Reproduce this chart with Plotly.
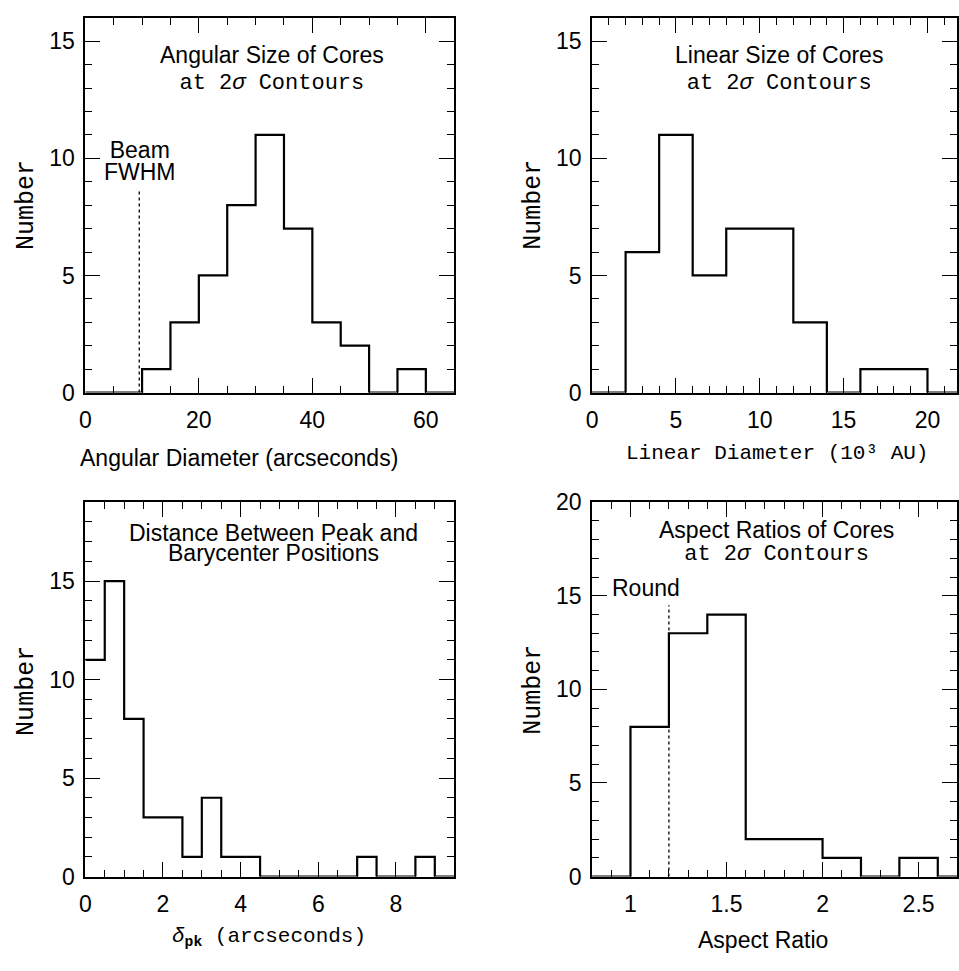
import plotly.graph_objects as go

# ---------------- data ----------------
ang_edges = [0, 5, 10, 15, 20, 25, 30, 35, 40, 45, 50, 55, 60, 65]
ang_counts = [0, 0, 1, 3, 5, 8, 11, 7, 3, 2, 0, 1, 0]
beam_fwhm = 9.5
beam_line_top = 8.6

lin_edges = [0, 2, 4, 6, 8, 10, 12, 14, 16, 18, 20, 22]
lin_counts = [0, 6, 11, 5, 7, 7, 3, 0, 1, 1, 0]

dpk_edges = [0, 0.5, 1, 1.5, 2, 2.5, 3, 3.5, 4, 4.5, 5, 5.5, 6, 6.5, 7, 7.5, 8, 8.5, 9, 9.5]
dpk_counts = [11, 15, 8, 3, 3, 1, 4, 1, 1, 0, 0, 0, 0, 0, 1, 0, 0, 1, 0]

asp_edges = [0.8, 1.0, 1.2, 1.4, 1.6, 1.8, 2.0, 2.2, 2.4, 2.6, 2.8]
asp_counts = [0, 8, 13, 14, 2, 2, 1, 0, 1, 0]
round_ratio = 1.2
round_line_top = 14.5

W, H = 959, 971
SANS = "Liberation Sans, Arial, Helvetica, sans-serif"
MONO = "Liberation Mono, Courier New, monospace"
MONO1 = "Liberation Mono"


def px(x):
    return x / W


def py(y):
    return 1 - y / H


fig = go.Figure()


def step(edges, counts, ax):
    fig.add_trace(go.Scatter(
        x=edges, y=counts + [counts[-1]], mode="lines", line_shape="hv",
        line=dict(color="black", width=2.2), xaxis="x" + ax, yaxis="y" + ax,
        showlegend=False, hoverinfo="skip"))


step(ang_edges, ang_counts, "")
step(lin_edges, lin_counts, "2")
step(dpk_edges, dpk_counts, "3")
step(asp_edges, asp_counts, "4")

fig.add_trace(go.Scatter(x=[beam_fwhm, beam_fwhm], y=[0, beam_line_top], mode="lines",
                         line=dict(color="black", width=1.3, dash="dot"),
                         xaxis="x", yaxis="y", showlegend=False, hoverinfo="skip"))
fig.add_trace(go.Scatter(x=[round_ratio, round_ratio], y=[0, round_line_top], mode="lines",
                         line=dict(color="black", width=1.3, dash="dot"),
                         xaxis="x4", yaxis="y4", showlegend=False, hoverinfo="skip"))

L1, R1 = 80, 452
L2, R2 = 591, 959
T1, B1 = 5, 390
T2, B2 = 502.7, 887.3


def xax(dom, rng, dtick, minor, anchor):
    return dict(domain=[px(dom[0]), px(dom[1])], range=rng, anchor=anchor,
                showgrid=False, zeroline=False, showline=True, linecolor="black",
                linewidth=2, mirror="ticks", ticks="inside", ticklen=15, tickwidth=1.2,
                tickcolor="black", dtick=dtick, tick0=0,
                minor=dict(dtick=minor, ticks="inside", ticklen=7, tickwidth=1.2,
                           tickcolor="black", showgrid=False),
                tickfont=dict(family=SANS, size=23, color="black"),
                ticklabelstandoff=6)


def yax(dom, rng, anchor):
    return dict(domain=[py(dom[1]), py(dom[0])], range=rng, anchor=anchor,
                showgrid=False, zeroline=False, showline=True, linecolor="black",
                linewidth=2, mirror="ticks", ticks="inside", ticklen=15, tickwidth=1.2,
                tickcolor="black", dtick=5, tick0=0,
                minor=dict(dtick=1, ticks="inside", ticklen=7, tickwidth=1.2,
                           tickcolor="black", showgrid=False),
                tickfont=dict(family=SANS, size=23, color="black"),
                ticklabelstandoff=4)


fig.update_layout(
    width=W, height=H, margin=dict(l=0, r=0, t=0, b=0),
    paper_bgcolor="white", plot_bgcolor="white", showlegend=False,
    xaxis=xax((L1, R1), [0, 65], 20, 5, "y"),
    yaxis=yax((T1, B1), [0, 16], "x"),
    xaxis2=xax((L2, R2), [0, 21.76], 5, 1, "y2"),
    yaxis2=yax((T1, B1), [0, 16], "x2"),
    xaxis3=xax((L1, R1), [0, 9.5], 2, 0.5, "y3"),
    yaxis3=yax((T2, B2), [0, 19], "x3"),
    xaxis4=dict(xax((L2, R2), [0.8, 2.7], 0.5, 0.1, "y4"), tick0=1),
    yaxis4=yax((T2, B2), [0, 20], "x4"),
)
fig.layout.xaxis4.minor.tick0 = 0.8


def ann(text, x, y, family, size, angle=0):
    fig.add_annotation(text=text, x=px(x), y=py(y), xref="paper", yref="paper",
                       xanchor="center", yanchor="middle", showarrow=False,
                       textangle=angle, font=dict(family=family, size=size, color="black"))


def sp(t, size, family=None):
    st = "font-size:%dpx" % size
    if family:
        st += ";font-family:%s" % family
    return '<span style="%s">%s</span>' % (st, t)


# panel titles (two lines each, tight line spacing via small base size)
ann(sp("Angular Size of Cores", 23) + "<br>" + sp("at 2<i>σ</i> Contours", 22, MONO1),
    268, 58, SANS, 20)
ann(sp("Linear Size of Cores", 23) + "<br>" + sp("at 2<i>σ</i> Contours", 22, MONO1),
    779, 58, SANS, 20)
ann(sp("Distance Between Peak and", 23) + "<br>" + sp("Barycenter Positions", 23),
    270, 545, SANS, 15.4)
ann(sp("Aspect Ratios of Cores", 23) + "<br>" + sp("at 2<i>σ</i> Contours", 22, MONO1),
    777, 544, SANS, 16.7)

# markers' labels
ann(sp("Beam", 23) + "<br>" + sp("FWHM", 23), 135, 152.5, SANS, 16.6)
ann("Round", 645.8, 591, SANS, 23)

# axis titles
ann("Angular Diameter (arcseconds)", 235, 457, SANS, 23)
ann("Linear Diameter (10³ AU)", 777, 453, MONO, 21)
ann("<i>δ</i><sub><b>pk</b></sub> (arcseconds)", 265, 950, MONO, 21)
ann("Aspect Ratio", 763, 952, SANS, 23)
ann("Number", 20, 197.5, MONO, 25, -90)
ann("Number", 532, 197.5, MONO, 25, -90)
ann("Number", 20, 696.7, MONO, 25, -90)
ann("Number", 531.7, 695, MONO, 25, -90)

fig.write_html("out.html")
